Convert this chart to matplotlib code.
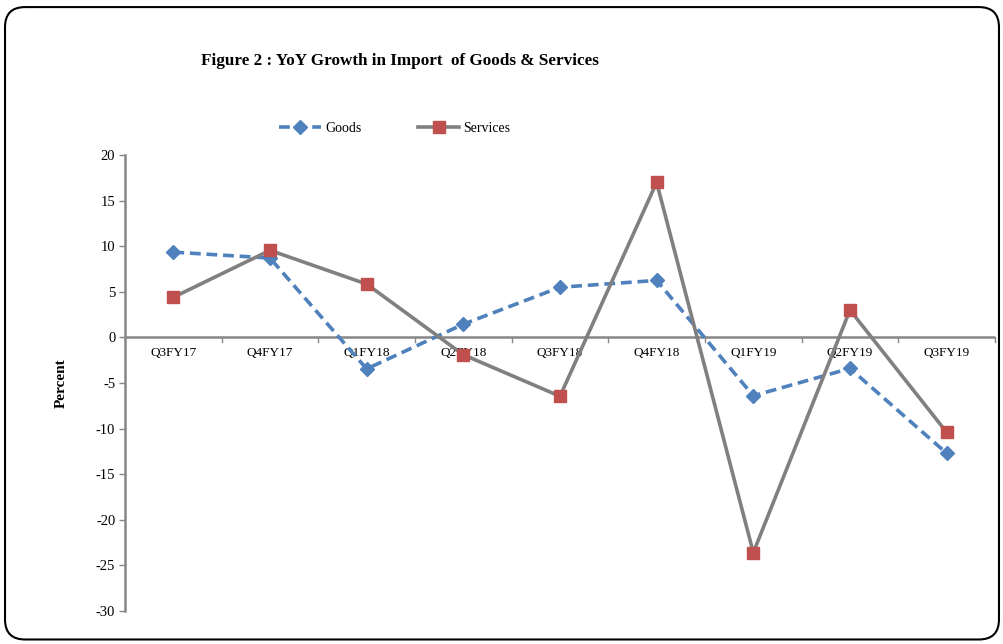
import matplotlib
matplotlib.use("Agg")
import matplotlib.pyplot as plt
from matplotlib.patches import FancyBboxPatch
import numpy as np

categories = ["Q3FY17", "Q4FY17", "Q1FY18", "Q2FY18", "Q3FY18", "Q4FY18", "Q1FY19", "Q2FY19", "Q3FY19"]
goods = [9.35, 8.7, -3.45, 1.45, 5.5, 6.25, -6.4, -3.4, -12.7]
services = [4.4, 9.55, 5.85, -1.9, -6.45, 17.0, -23.6, 3.0, -10.4]
yticks = [-30, -25, -20, -15, -10, -5, 0, 5, 10, 15, 20]

plt.rcParams['font.family'] = ['Liberation Serif', 'DejaVu Serif']

fig = plt.figure(figsize=(10.04, 6.44), dpi=100)
border = FancyBboxPatch((0.005, 0.007), 0.99, 0.982, boxstyle="round,pad=0,rounding_size=0.02",
                        transform=fig.transFigure, fill=False, edgecolor="black", linewidth=1.5,
                        mutation_aspect=1004/644)
fig.patches.append(border)

ax = fig.add_axes([0.1245, 0.0512, 0.8665, 0.7081])
x = np.arange(len(categories))
axis_col = "#868686"
ax.plot(x, goods, color="#4F81BD", linestyle=(0, (3, 1.6)), linewidth=2.6, marker="D",
        markersize=7, label="Goods", zorder=3)
ax.plot(x, services, color="#808080", linestyle="-", linewidth=2.6, marker="s",
        markersize=8.5, markerfacecolor="#C0504D", markeredgecolor="#C0504D", label="Services", zorder=3)

ax.set_xlim(-0.5, len(categories) - 0.5)
ax.set_ylim(-30, 20)
ax.set_yticks(yticks)
ax.set_yticklabels([str(v) for v in yticks], fontsize=10.5)
for s in ["top", "right", "bottom"]:
    ax.spines[s].set_visible(False)
ax.spines["left"].set_color(axis_col)
ax.spines["left"].set_linewidth(1.8)
ax.axhline(0, color=axis_col, linewidth=1.8, zorder=2)
ax.tick_params(axis="y", color=axis_col, length=4, width=1, pad=3)
ax.set_xticks([])
for i in range(1, len(categories) + 1):
    ax.plot([i - 0.5, i - 0.5], [0, -0.45], color=axis_col, linewidth=1, zorder=2, clip_on=False)
for i, c in enumerate(categories):
    ax.text(i, -1.0, c, ha="center", va="top", fontsize=9.5, zorder=1)

ax.set_ylabel("Percent", fontsize=11, fontweight="bold", labelpad=20)

fig.text(0.3984, 0.906, "Figure 2 : YoY Growth in Import  of Goods & Services", ha="center", va="center",
         fontsize=12.3, fontweight="bold")
leg = ax.legend(loc="center", bbox_to_anchor=(0.3934, 0.80), bbox_transform=fig.transFigure, ncol=2,
                frameon=False, fontsize=10, handlelength=3.0, columnspacing=4.05, handletextpad=0.3)

fig.savefig("out.png", dpi=100)
